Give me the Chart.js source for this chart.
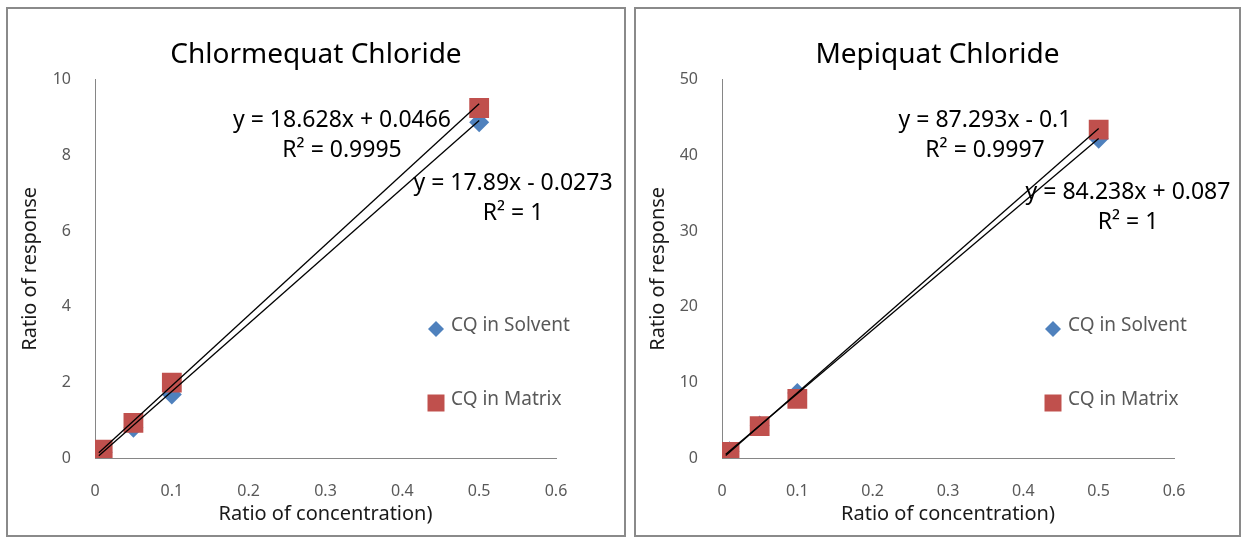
<!DOCTYPE html>
<html>
<head>
<meta charset="utf-8">
<script src="https://cdn.jsdelivr.net/npm/chart.js@4.4.1/dist/chart.umd.min.js"></script>
<style>
  body { margin: 0; background: #fff; width: 1242px; height: 537px; overflow: hidden; position: relative; }
  .panel { position: absolute; top: 7px; height: 530px; box-sizing: border-box; border: 2px solid #8a8a8a; background: #fff; }
  #p1 { left: 6px; width: 620px; }
  #p2 { left: 634px; width: 607px; }
  canvas { display: block; }
</style>
</head>
<body>
<div class="panel" id="p1"><canvas id="c1" width="616" height="526"></canvas></div>
<div class="panel" id="p2"><canvas id="c2" width="603" height="526"></canvas></div>
<script>
// shared x values and labels
const concentration = [0.005, 0.01, 0.05, 0.1, 0.5];
const xTicks = [0, 0.1, 0.2, 0.3, 0.4, 0.5, 0.6];
const seriesNames = ['CQ in Solvent', 'CQ in Matrix'];

// Chlormequat Chloride
const chlormequatSolvent = [0.06, 0.15, 0.8, 1.68, 8.87];
const chlormequatMatrix = [0.08, 0.22, 0.93, 1.99, 9.25];
const chlormequatYTicks = [0, 2, 4, 6, 8, 10];
const chlormequatSlope = [17.89, 18.628];      // solvent, matrix
const chlormequatIntercept = [-0.0273, 0.0466];
const chlormequatR2 = ['1', '0.9995'];

// Mepiquat Chloride
const mepiquatSolvent = [0.5, 0.9, 4.3, 8.6, 42.2];
const mepiquatMatrix = [0.35, 0.8, 4.2, 7.8, 43.4];
const mepiquatYTicks = [0, 10, 20, 30, 40, 50];
const mepiquatSlope = [84.238, 87.293];
const mepiquatIntercept = [0.087, -0.1];
const mepiquatR2 = ['1', '0.9997'];

const BLUE = '#4F81BD';
const RED = '#C0504D';
const FONT = '"Noto Sans", "DejaVu Sans", sans-serif';

function points(ys) {
  return concentration.map((x, i) => ({ x: x, y: ys[i] }));
}

function trend(m, b) {
  const x0 = Math.min(...concentration), x1 = Math.max(...concentration);
  return [{ x: x0, y: m * x0 + b }, { x: x1, y: m * x1 + b }];
}

function equation(m, b) {
  return 'y = ' + m + 'x ' + (b < 0 ? '- ' : '+ ') + Math.abs(b);
}

// draws trendline labels and the in-plot legend
const annotate = {
  id: 'annotate',
  afterDatasetsDraw(chart, args, opts) {
    const ctx = chart.ctx;
    ctx.save();
    ctx.fillStyle = '#000';
    ctx.font = '23px ' + FONT;
    ctx.textAlign = 'center';
    ctx.textBaseline = 'middle';
    opts.equations.forEach(e => {
      ctx.fillText(e.lines[0], e.x, e.y);
      ctx.fillText(e.lines[1], e.x, e.y + 30);
    });

    ctx.font = '19px ' + FONT;
    ctx.textAlign = 'left';
    opts.legend.items.forEach((it, i) => {
      const y = opts.legend.y[i];
      const x = opts.legend.x;
      ctx.fillStyle = it.color;
      ctx.beginPath();
      if (it.shape === 'diamond') {
        ctx.moveTo(x - 8, y); ctx.lineTo(x, y - 8); ctx.lineTo(x + 8, y); ctx.lineTo(x, y + 8);
      } else {
        ctx.rect(x - 8.5, y - 8.5, 17, 17);
      }
      ctx.closePath();
      ctx.fill();
      ctx.fillStyle = '#595959';
      ctx.fillText(it.text, opts.legend.textX, y - 3);
    });
    ctx.restore();
  }
};

function makeChart(id, title, solvent, matrix, yTicks, slope, intercept, r2, geo) {
  return new Chart(document.getElementById(id), {
    type: 'scatter',
    data: {
      datasets: [
        { label: 'trend ' + seriesNames[1], data: trend(slope[1], intercept[1]), showLine: true,
          borderColor: '#000', borderWidth: 1.3, pointRadius: 0, order: 0 },
        { label: 'trend ' + seriesNames[0], data: trend(slope[0], intercept[0]), showLine: true,
          borderColor: '#000', borderWidth: 1.3, pointRadius: 0, order: 0 },
        { label: seriesNames[1], data: points(matrix), pointStyle: 'rect', pointRadius: 14,
          backgroundColor: RED, borderWidth: 0, order: 1 },
        { label: seriesNames[0], data: points(solvent), pointStyle: 'rectRot', pointRadius: 10,
          backgroundColor: BLUE, borderWidth: 0, order: 2 }
      ]
    },
    plugins: [annotate],
    options: {
      responsive: false,
      animation: false,
      layout: { padding: 0 },
      scales: {
        x: {
          type: 'linear', min: 0, max: 0.6,
          afterBuildTicks: s => { s.ticks = xTicks.map(v => ({ value: v })); },
          afterFit: s => { s.height = 77; },
          grid: { display: false, drawTicks: false },
          border: { display: true, color: '#868686', width: 1 },
          ticks: { color: '#595959', font: { family: FONT, size: 16 }, padding: 24 },
          title: { display: true, text: 'Ratio of concentration)', color: '#1a1a1a',
                   font: { family: FONT, size: 20 }, padding: { top: 0, bottom: 9 } }
        },
        y: {
          type: 'linear', min: 0, max: yTicks[yTicks.length - 1],
          afterBuildTicks: s => { s.ticks = yTicks.map(v => ({ value: v })); },
          afterFit: s => { s.width = geo.left; },
          grid: { display: false, drawTicks: false },
          border: { display: true, color: '#868686', width: 1 },
          ticks: { color: '#595959', font: { family: FONT, size: 16 }, padding: 24 },
          title: { display: true, text: 'Ratio of response', color: '#1a1a1a',
                   font: { family: FONT, size: 20 }, padding: { top: 10, bottom: 0 } }
        },
        pad: {
          position: 'right', display: true,
          afterFit: s => { s.width = geo.right; },
          grid: { display: false, drawTicks: false },
          border: { display: false },
          ticks: { display: false }
        }
      },
      plugins: {
        legend: { display: false },
        tooltip: { enabled: false },
        title: { display: true, text: title, color: '#000',
                 font: { family: FONT, size: 28, weight: 'normal' },
                 padding: { top: 29, bottom: 8 } },
        annotate: {
          equations: [
            { lines: [equation(slope[0], intercept[0]), 'R² = ' + r2[0]], x: geo.eq[0][0], y: geo.eq[0][1] },
            { lines: [equation(slope[1], intercept[1]), 'R² = ' + r2[1]], x: geo.eq[1][0], y: geo.eq[1][1] }
          ],
          legend: {
            x: geo.legendX, textX: geo.legendX + 15, y: [320, 394],
            items: [
              { text: seriesNames[0], color: BLUE, shape: 'diamond' },
              { text: seriesNames[1], color: RED, shape: 'square' }
            ]
          }
        }
      }
    }
  });
}

makeChart('c1', 'Chlormequat Chloride', chlormequatSolvent, chlormequatMatrix, chlormequatYTicks,
  chlormequatSlope, chlormequatIntercept, chlormequatR2,
  { left: 87, right: 68, eq: [[505, 174], [334, 111]], legendX: 428 });

makeChart('c2', 'Mepiquat Chloride', mepiquatSolvent, mepiquatMatrix, mepiquatYTicks,
  mepiquatSlope, mepiquatIntercept, mepiquatR2,
  { left: 86, right: 65, eq: [[492, 183], [349, 111]], legendX: 417 });
</script>
</body>
</html>
